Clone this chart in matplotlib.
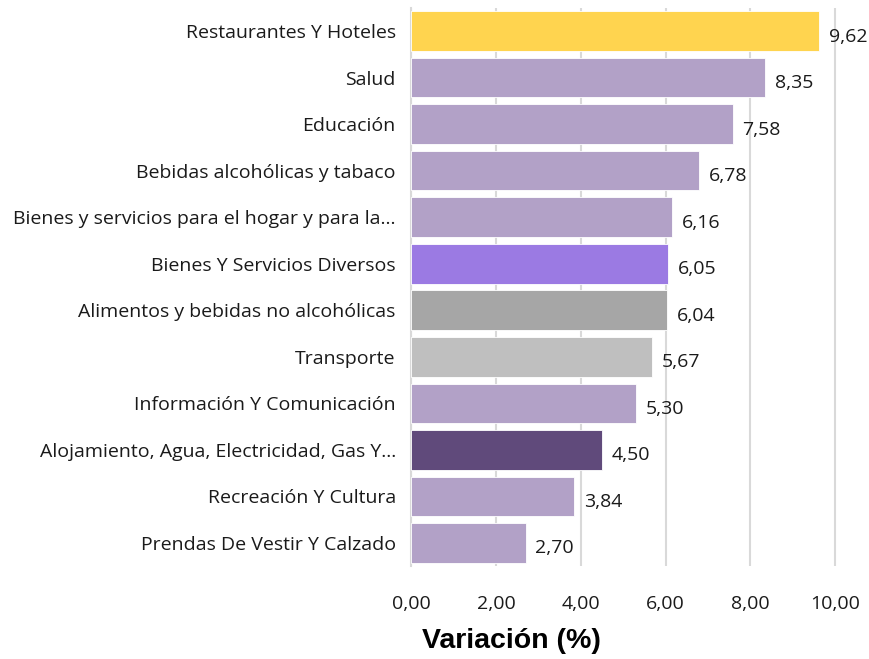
import matplotlib.pyplot as plt
from matplotlib.ticker import FuncFormatter

categories = [
    "Restaurantes Y Hoteles",
    "Salud",
    "Educación",
    "Bebidas alcohólicas y tabaco",
    "Bienes y servicios para el hogar y para la...",
    "Bienes Y Servicios Diversos",
    "Alimentos y bebidas no alcohólicas",
    "Transporte",
    "Información Y Comunicación",
    "Alojamiento, Agua, Electricidad, Gas Y...",
    "Recreación Y Cultura",
    "Prendas De Vestir Y Calzado",
]
values = [9.62, 8.35, 7.58, 6.78, 6.16, 6.05, 6.04, 5.67, 5.30, 4.50, 3.84, 2.70]
colors = ["#FFD44F", "#B2A1C7", "#B2A1C7", "#B2A1C7", "#B2A1C7", "#9B7AE3",
          "#A6A6A6", "#BFBFBF", "#B2A1C7", "#604A7B", "#B2A1C7", "#B2A1C7"]
xticks = [0, 2, 4, 6, 8, 10]

plt.rcParams["font.family"] = ["Open Sans", "DejaVu Sans"]

fig = plt.figure(figsize=(8.69, 6.59), dpi=100)
ax = fig.add_axes([0.473, 0.141, 0.498, 0.847])

pos = list(range(len(categories)))
ax.barh(pos, values, height=0.85, color=colors, edgecolor="white", linewidth=0.6, zorder=3)
for p, v in zip(pos, values):
    ax.annotate(f"{v:.2f}".replace(".", ","), (v, p), xytext=(7, -4),
                textcoords="offset points", va="center", ha="left", fontsize=14, color="#1a1a1a")

ax.set_yticks(pos)
ax.set_yticklabels(categories, fontsize=14, color="#1a1a1a")
ax.set_ylim(len(categories) - 0.5, -0.5)
ax.set_xlim(0, 10.2)
ax.set_xticks(xticks)
ax.xaxis.set_major_formatter(FuncFormatter(lambda x, _: f"{x:.2f}".replace(".", ",")))
ax.tick_params(axis="x", labelsize=14, length=0, pad=21, colors="#1a1a1a")
ax.tick_params(axis="y", length=0, pad=11)
ax.grid(axis="x", color="#D9D9D9", linewidth=1.5, zorder=0)
for s in ["top", "right", "bottom"]:
    ax.spines[s].set_visible(False)
ax.spines["left"].set_color("#D9D9D9")
ax.spines["left"].set_linewidth(1.5)
fig.text(0.589, 1 - 641 / 659, "Variación (%)", fontsize=20.5, fontweight="bold",
         family=["Liberation Sans", "DejaVu Sans"], ha="center", va="center")

fig.savefig("out.png", dpi=100)
